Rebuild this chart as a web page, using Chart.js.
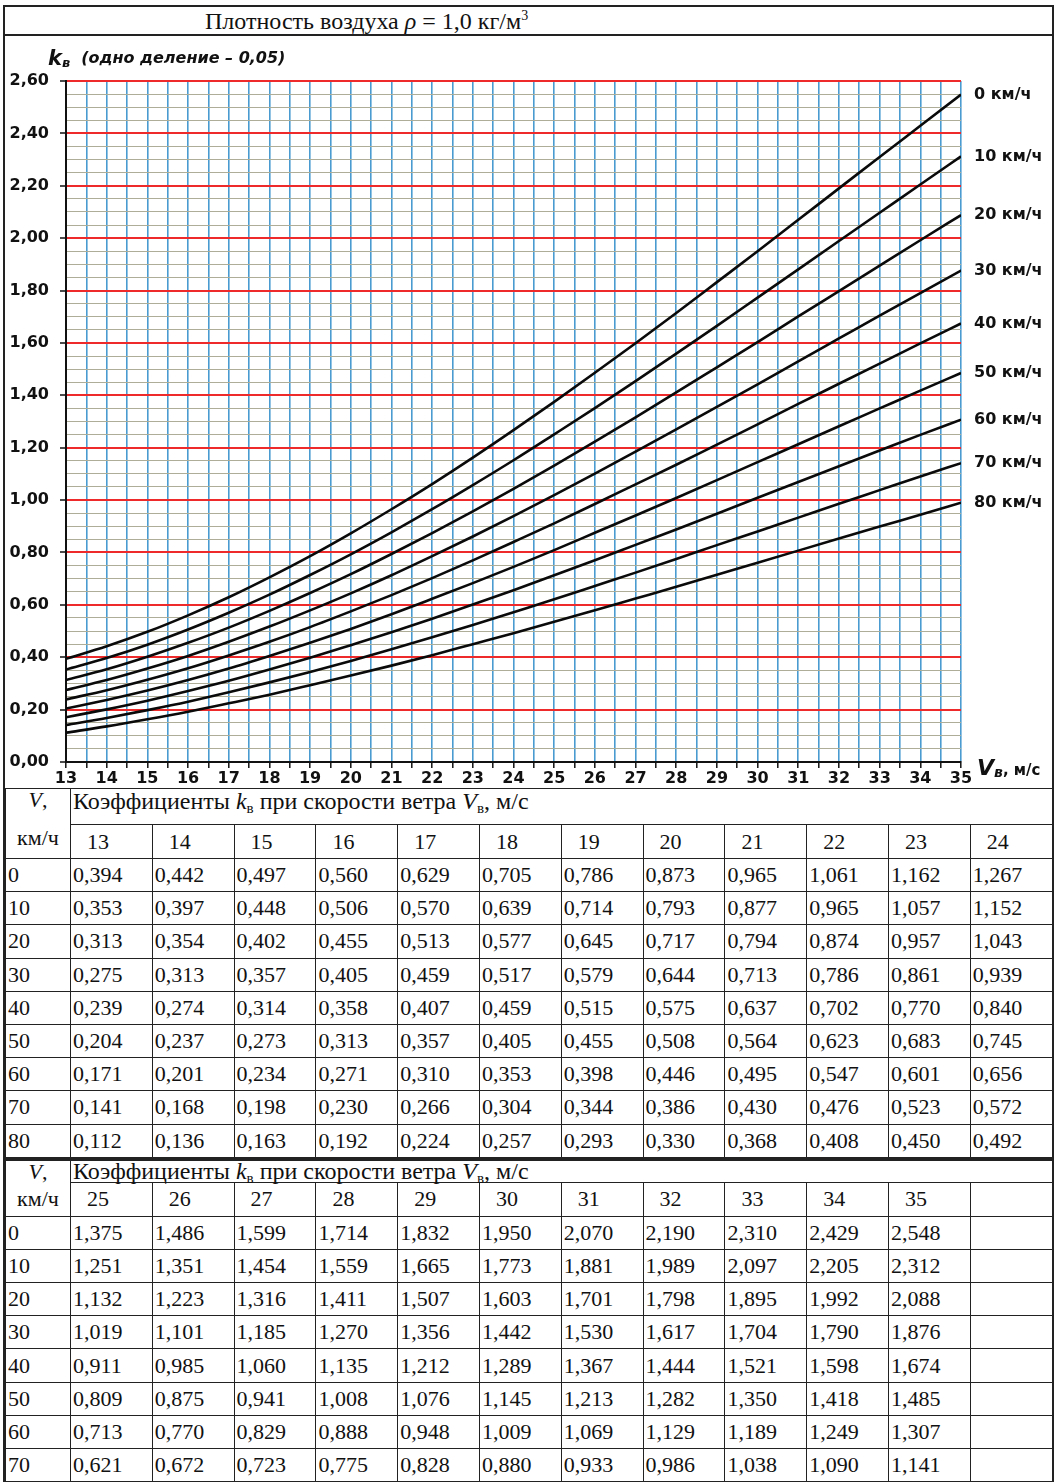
<!DOCTYPE html>
<html>
<head>
<meta charset="utf-8">
<script src="https://cdn.jsdelivr.net/npm/chart.js@4.4.0/dist/chart.umd.min.js"></script>
<style>
body{margin:0;background:#fff;width:1060px;height:1482px;overflow:hidden;font-family:"Liberation Serif",serif;color:#111;}
#frame{position:absolute;left:3px;top:5px;width:1047px;border:2px solid #222;border-bottom:none;}
#title{height:27px;border-bottom:2px solid #222;font-size:24px;line-height:28px;padding-left:200px;white-space:nowrap;}
#chartBox{position:relative;height:752px;}
table{border-collapse:collapse;table-layout:fixed;width:1047px;font-size:22px;}
td{border:1.5px solid #222;padding:0 0 0 2px;height:32.2px;white-space:nowrap;line-height:22px;}
td.vh{text-align:center;vertical-align:top;padding:0;}
td.cap{vertical-align:top;padding-top:1px;font-size:24px;}
td.num{padding-left:16px;}
tr.h1 td{height:34px;}
tr.h2 td{height:33px;}
.tab2 tr.h1 td{height:21px;border-top:3px solid #222;}
.tab2 td.cap{padding-top:0;line-height:20px;}
sub{font-size:15px;vertical-align:-4px;line-height:0;}
sup{font-size:14px;line-height:0;}
</style>
</head>
<body>
<div id="frame">
  <div id="title">Плотность воздуха <i>ρ</i> = 1,0 кг/м<sup>3</sup></div>
  <div id="chartBox"><canvas id="c"></canvas></div>
  <div id="tables"></div>
</div>
<script>
// скорость ветра, м/с
let vs=[13,14,15,16,17,18,19,20,21,22,23,24,25,26,27,28,29,30,31,32,33,34,35];
let speeds=[0,10,20,30,40,50,60,70,80];

// коэффициенты k_в по строкам таблицы
let kv0 =[0.394,0.442,0.497,0.560,0.629,0.705,0.786,0.873,0.965,1.061,1.162,1.267,1.375,1.486,1.599,1.714,1.832,1.950,2.070,2.190,2.310,2.429,2.548];
let kv10=[0.353,0.397,0.448,0.506,0.570,0.639,0.714,0.793,0.877,0.965,1.057,1.152,1.251,1.351,1.454,1.559,1.665,1.773,1.881,1.989,2.097,2.205,2.312];
let kv20=[0.313,0.354,0.402,0.455,0.513,0.577,0.645,0.717,0.794,0.874,0.957,1.043,1.132,1.223,1.316,1.411,1.507,1.603,1.701,1.798,1.895,1.992,2.088];
let kv30=[0.275,0.313,0.357,0.405,0.459,0.517,0.579,0.644,0.713,0.786,0.861,0.939,1.019,1.101,1.185,1.270,1.356,1.442,1.530,1.617,1.704,1.790,1.876];
let kv40=[0.239,0.274,0.314,0.358,0.407,0.459,0.515,0.575,0.637,0.702,0.770,0.840,0.911,0.985,1.060,1.135,1.212,1.289,1.367,1.444,1.521,1.598,1.674];
let kv50=[0.204,0.237,0.273,0.313,0.357,0.405,0.455,0.508,0.564,0.623,0.683,0.745,0.809,0.875,0.941,1.008,1.076,1.145,1.213,1.282,1.350,1.418,1.485];
let kv60=[0.171,0.201,0.234,0.271,0.310,0.353,0.398,0.446,0.495,0.547,0.601,0.656,0.713,0.770,0.829,0.888,0.948,1.009,1.069,1.129,1.189,1.249,1.307];
let kv70=[0.141,0.168,0.198,0.230,0.266,0.304,0.344,0.386,0.430,0.476,0.523,0.572,0.621,0.672,0.723,0.775,0.828,0.880,0.933,0.986,1.038,1.090,1.141];
// 25..35 для 80 км/ч (строка таблицы обрезана)
let kv80=[0.112,0.136,0.163,0.192,0.224,0.257,0.293,0.330,0.368,0.408,0.450,0.492,0.535,0.579,0.624,0.669,0.715,0.761,0.807,0.853,0.899,0.944,0.990];

let rows=[kv0,kv10,kv20,kv30,kv40,kv50,kv60,kv70,kv80];

function fmt(v,d){return v.toFixed(d).replace(".",",");}
function isMajor(v,step){return Math.abs(v/step-Math.round(v/step))<1e-6;}

/* TABLES */
function buildTable(from,to,cls){
  let gap=cls=="tab2"?5:16;
  let h='<table class="'+cls+'"><colgroup><col style="width:65px">';
  for(let i=0;i<12;i++) h+='<col style="width:81.8px">';
  h+='</colgroup>';
  h+='<tr class="h1"><td class="vh" rowspan="2"><div style="height:22px;line-height:22px"><i>V</i>,</div>'+
     '<div style="line-height:22px;margin-top:'+gap+'px">км/ч</div></td>'+
     '<td class="cap" colspan="12">Коэффициенты <i>k</i><sub>в</sub> при скорости ветра <i>V</i><sub>в</sub>, м/с</td></tr>';
  h+='<tr class="h2">';
  for(let i=0;i<12;i++){
    let j=from+i;
    h+='<td class="num">'+(j<=to?vs[j]:'')+'</td>';
  }
  h+='</tr>';
  rows.forEach((r,ri)=>{
    h+='<tr><td>'+speeds[ri]+'</td>';
    for(let i=0;i<12;i++){
      let j=from+i;
      h+='<td>'+(j<=to?fmt(r[j],3):'')+'</td>';
    }
    h+='</tr>';
  });
  return h+'</table>';
}
document.getElementById("tables").innerHTML=buildTable(0,11,"tab1")+buildTable(12,22,"tab2");

/* LABELS */
const FONT='"DejaVu Sans", Verdana, sans-serif';
let labelPlugin={
  id:"labels",
  afterDatasetsDraw(chart){
    let ctx=chart.ctx, a=chart.chartArea;
    ctx.save();
    ctx.fillStyle="#111";
    ctx.textBaseline="middle";
    ctx.font='bold 16px '+FONT;
    chart.data.datasets.forEach((ds,i)=>{
      let pts=chart.getDatasetMeta(i).data;
      let p=pts[pts.length-1];
      ctx.fillText(speeds[i]+" км/ч",a.right+13,p.y);
    });
    // подпись оси X
    ctx.textBaseline="alphabetic";
    let x=a.right+16, y=a.bottom+13;
    ctx.font='italic bold 22px '+FONT;
    ctx.fillText("V",x,y);
    x+=ctx.measureText("V").width;
    ctx.font='italic bold 14px '+FONT;
    ctx.fillText("в",x,y+2);
    x+=ctx.measureText("в").width;
    ctx.font='bold 15px '+FONT;
    ctx.fillText(", м/с",x,y);
    // подпись оси Y
    x=a.left-18; y=a.top-16;
    ctx.font='italic bold 21px '+FONT;
    ctx.fillText("k",x,y);
    x+=ctx.measureText("k").width;
    ctx.font='italic bold 13px '+FONT;
    ctx.fillText("в",x,y+2);
    x+=ctx.measureText("в").width+11;
    ctx.font='italic bold 16px '+FONT;
    ctx.fillText("(одно деление – 0,05)",x,y-2);
    ctx.restore();
  }
};

/* CHART */
new Chart(document.getElementById("c"),{
  type:"line",
  data:{
    datasets:rows.map((r,i)=>({
      label:speeds[i]+" км/ч",
      data:vs.map((v,j)=>({x:v,y:r[j]})),
      borderColor:"#0a0a0a",
      borderWidth:2.6,
      pointRadius:0,
      cubicInterpolationMode:"monotone",
      fill:false
    }))
  },
  options:{
    responsive:true,
    maintainAspectRatio:false,
    animation:false,
    layout:{padding:{top:45,right:91,left:0,bottom:0}},
    plugins:{legend:{display:false},tooltip:{enabled:false}},
    scales:{
      x:{
        type:"linear",min:13,max:35,
        afterFit(s){s.height=26;},
        ticks:{stepSize:0.5,autoSkip:false,maxRotation:0,padding:1,color:"#111",
          font:{family:"DejaVu Sans",weight:"bold",size:16},
          callback:v=>isMajor(v,1)?String(Math.round(v)):""},
        grid:{color:"#4a9bd0",lineWidth:1.6,tickLength:6,tickColor:"#111",tickWidth:1.5},
        border:{color:"#111",width:2}
      },
      y:{
        min:0,max:2.6,
        afterFit(s){s.width=61;},
        ticks:{stepSize:0.05,autoSkip:false,padding:11,color:"#111",
          font:{family:"DejaVu Sans",weight:"bold",size:16},
          callback:v=>isMajor(v,0.2)?fmt(v,2):""},
        grid:{
          color:c=>c.tick&&isMajor(c.tick.value,0.2)?"#ee2a2a":"#adad98",
          lineWidth:c=>c.tick&&isMajor(c.tick.value,0.2)?2:1,
          tickLength:6,
          tickColor:c=>c.tick&&isMajor(c.tick.value,0.2)?"#111":"rgba(0,0,0,0)",
          tickWidth:1.5
        },
        border:{color:"#111",width:2}
      }
    }
  },
  plugins:[labelPlugin]
});
</script>
</body>
</html>
